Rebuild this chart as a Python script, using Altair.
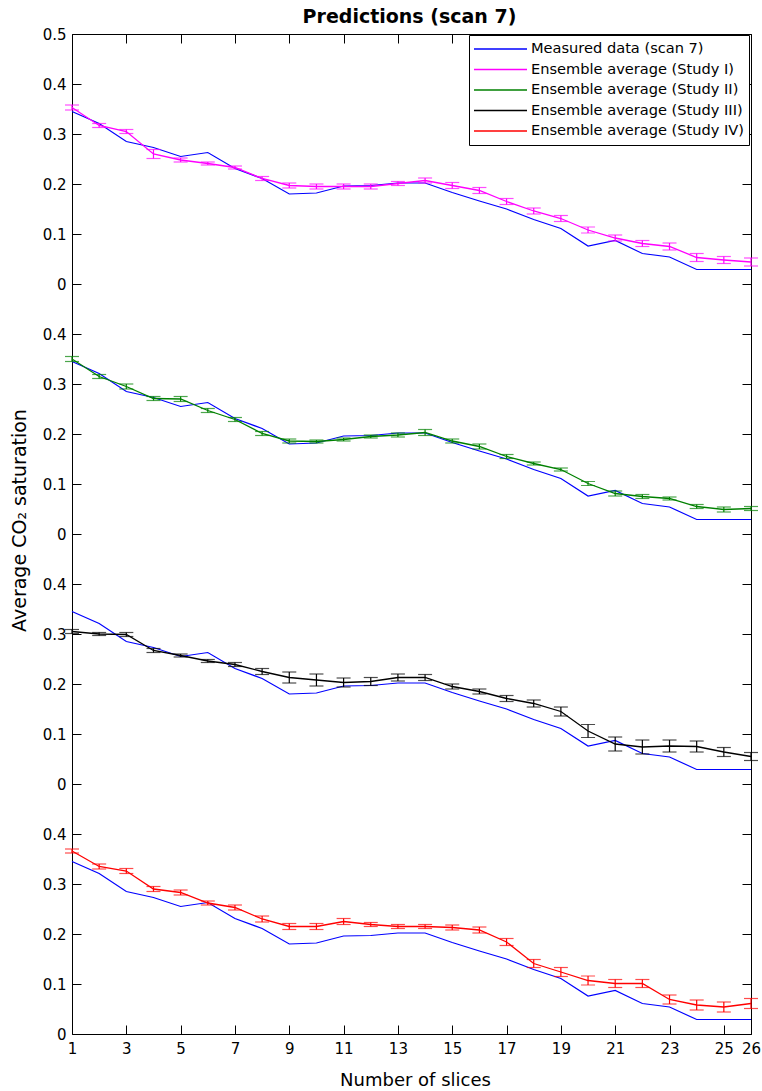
import altair as alt
import pandas as pd

# Slice index along the core
slices = list(range(1, 27))

# Measured average CO2 saturation (scan 7)
measured = [0.345, 0.321, 0.285, 0.273, 0.255, 0.263, 0.231, 0.211, 0.180, 0.182,
            0.196, 0.197, 0.202, 0.202, 0.183, 0.166, 0.150, 0.129, 0.111, 0.076,
            0.087, 0.061, 0.054, 0.029, 0.029, 0.029]

# Ensemble averages and their error half-widths for each study
study_i = [0.353, 0.317, 0.305, 0.260, 0.248, 0.241, 0.233, 0.211, 0.197, 0.195,
           0.195, 0.195, 0.201, 0.207, 0.197, 0.187, 0.165, 0.146, 0.131, 0.108,
           0.092, 0.081, 0.075, 0.053, 0.048, 0.044]
err_i = [0.005, 0.004, 0.004, 0.009, 0.004, 0.003, 0.003, 0.004, 0.005, 0.005,
         0.005, 0.005, 0.004, 0.005, 0.006, 0.006, 0.006, 0.006, 0.006, 0.006,
         0.006, 0.006, 0.007, 0.008, 0.007, 0.008]

study_ii = [0.350, 0.315, 0.295, 0.271, 0.270, 0.247, 0.229, 0.201, 0.186, 0.185,
            0.189, 0.195, 0.198, 0.203, 0.186, 0.175, 0.155, 0.141, 0.129, 0.101,
            0.081, 0.075, 0.071, 0.055, 0.049, 0.051]
err_ii = [0.005, 0.004, 0.005, 0.004, 0.005, 0.004, 0.004, 0.004, 0.004, 0.003,
          0.003, 0.003, 0.004, 0.006, 0.004, 0.005, 0.004, 0.003, 0.003, 0.004,
          0.005, 0.004, 0.003, 0.004, 0.005, 0.004]

study_iii = [0.305, 0.300, 0.299, 0.267, 0.257, 0.246, 0.239, 0.225, 0.213, 0.208,
             0.203, 0.205, 0.213, 0.213, 0.195, 0.185, 0.171, 0.161, 0.145, 0.106,
             0.080, 0.074, 0.076, 0.075, 0.064, 0.055]
err_iii = [0.004, 0.003, 0.004, 0.004, 0.003, 0.003, 0.004, 0.006, 0.011, 0.012,
           0.009, 0.008, 0.007, 0.006, 0.005, 0.005, 0.006, 0.007, 0.009, 0.013,
           0.014, 0.014, 0.012, 0.011, 0.009, 0.008]

study_iv = [0.366, 0.335, 0.326, 0.290, 0.283, 0.262, 0.253, 0.230, 0.215, 0.215,
            0.225, 0.219, 0.215, 0.215, 0.213, 0.208, 0.184, 0.141, 0.124, 0.107,
            0.101, 0.101, 0.069, 0.058, 0.054, 0.061]
err_iv = [0.004, 0.005, 0.005, 0.005, 0.005, 0.004, 0.005, 0.006, 0.006, 0.006,
          0.006, 0.004, 0.004, 0.004, 0.005, 0.006, 0.007, 0.008, 0.009, 0.009,
          0.008, 0.008, 0.009, 0.010, 0.010, 0.010]

series_names = ["Measured data (scan 7)",
                "Ensemble average (Study I)",
                "Ensemble average (Study II)",
                "Ensemble average (Study III)",
                "Ensemble average (Study IV)"]
series_colors = ["#0000ff", "#ff00ff", "#008000", "#000000", "#ff0000"]

# Each study sits in its own 0.5-high band, stacked from top to bottom
panel_offsets = [1.5, 1.0, 0.5, 0.0]

x_ticks = [1, 3, 5, 7, 9, 11, 13, 15, 17, 19, 21, 23, 25, 26]
y_ticks = [round(0.1 * i, 1) for i in range(21)]

rows = []
studies = [(study_i, err_i), (study_ii, err_ii), (study_iii, err_iii), (study_iv, err_iv)]
for panel, ((vals, errs), name, off) in enumerate(zip(studies, series_names[1:], panel_offsets)):
    for s, m in zip(slices, measured):
        rows.append(dict(panel=panel, series=series_names[0], slice=s,
                         value=m, err=0.0, offset=off))
    for s, v, e in zip(slices, vals, errs):
        rows.append(dict(panel=panel, series=name, slice=s,
                         value=v, err=e, offset=off))
df = pd.DataFrame(rows)

FONT = "DejaVu Sans"
W, H = 679, 1000

x_scale = alt.Scale(domain=[1, 26], nice=False, zero=False)
y_scale = alt.Scale(domain=[0, 2], nice=False, zero=False)
color_scale = alt.Scale(domain=series_names, range=series_colors)

legend = alt.Legend(
    title=None, orient="none", legendX=397, legendY=1,
    symbolType="stroke", symbolSize=2809, symbolStrokeWidth=1.5,
    clipHeight=20, rowPadding=0.5, padding=4, labelOffset=3,
    labelFont=FONT, labelFontSize=14.6, labelColor="black", labelLimit=400,
    strokeColor="black", fillColor="white", cornerRadius=0,
)

y_label_expr = ("datum.value > 1.99 ? '0.5' : "
                "format((round(datum.value * 10) % 5) / 10, '.1~f')")

tick_style = dict(domain=False, grid=False, tickSize=9, tickColor="black",
                  tickWidth=1, offset=-9, labelFlush=False, labelOverlap=False,
                  labelFont=FONT, labelFontSize=15, labelColor="black",
                  titleFont=FONT, titleColor="black")

x_axis_bottom = alt.Axis(orient="bottom", values=x_ticks, format="d",
                         labelPadding=7, title="Number of slices",
                         titleFontSize=18, titleFontWeight="normal",
                         titleX=343, titleY=60,
                         titleAlign="center", titleBaseline="alphabetic",
                         **tick_style)
# The top axis carries the chart heading
x_axis_top = alt.Axis(orient="top", values=x_ticks, labels=False,
                      title="Predictions (scan 7)", titleFontSize=19,
                      titleFontWeight="bold", titleX=337, titleY=-21,
                      titleAlign="center", titleBaseline="alphabetic",
                      **tick_style)
y_axis_left = alt.Axis(orient="left", values=y_ticks, labelExpr=y_label_expr,
                       labelPadding=6, title="Average CO₂ saturation",
                       titleFontSize=19, titleFontWeight="normal",
                       titleAngle=270, titleX=-56, titleY=486,
                       titleAlign="center", titleBaseline="alphabetic",
                       **tick_style)
y_axis_right = alt.Axis(orient="right", values=y_ticks, labels=False, title=None,
                        **tick_style)

base = alt.Chart(df).transform_calculate(
    y="datum.value + datum.offset",
    lo="datum.value + datum.offset - datum.err",
    hi="datum.value + datum.offset + datum.err",
)

measured_lines = base.transform_filter(
    alt.datum.series == series_names[0]
).mark_line(strokeWidth=1.2).encode(
    x=alt.X("slice:Q", scale=x_scale, axis=x_axis_bottom),
    y=alt.Y("y:Q", scale=y_scale, axis=y_axis_left),
    color=alt.Color("series:N", scale=color_scale, legend=legend),
    detail="panel:N",
)

study_rows = base.transform_filter(alt.datum.series != series_names[0])

study_lines = study_rows.mark_line(strokeWidth=1.3).encode(
    x=alt.X("slice:Q", scale=x_scale, axis=x_axis_top),
    y=alt.Y("y:Q", scale=y_scale, axis=y_axis_right),
    color=alt.Color("series:N", scale=color_scale, legend=legend),
    detail="panel:N",
)

err_bars = study_rows.mark_rule(strokeWidth=1.2).encode(
    x=alt.X("slice:Q", scale=x_scale, axis=None),
    y=alt.Y("lo:Q", scale=y_scale, axis=None),
    y2="hi:Q",
    color=alt.Color("series:N", scale=color_scale, legend=None),
)

cap_lo = study_rows.mark_tick(orient="horizontal", size=14, thickness=1.2).encode(
    x=alt.X("slice:Q", scale=x_scale, axis=None),
    y=alt.Y("lo:Q", scale=y_scale, axis=None),
    color=alt.Color("series:N", scale=color_scale, legend=None),
)

cap_hi = study_rows.mark_tick(orient="horizontal", size=14, thickness=1.2).encode(
    x=alt.X("slice:Q", scale=x_scale, axis=None),
    y=alt.Y("hi:Q", scale=y_scale, axis=None),
    color=alt.Color("series:N", scale=color_scale, legend=None),
)

chart = alt.layer(
    measured_lines, study_lines, err_bars, cap_lo, cap_hi
).resolve_scale(
    x="shared", y="shared", color="shared"
).resolve_axis(
    x="independent", y="independent"
).properties(
    width=W, height=H,
    autosize=alt.AutoSizeParams(type="none"),
    padding={"left": 72, "top": 34, "right": 11, "bottom": 57},
).configure(
    font=FONT, background="white"
).configure_view(
    stroke="black", strokeWidth=1
)

chart.save("out.html", embed_options={"renderer": "svg", "actions": False})
